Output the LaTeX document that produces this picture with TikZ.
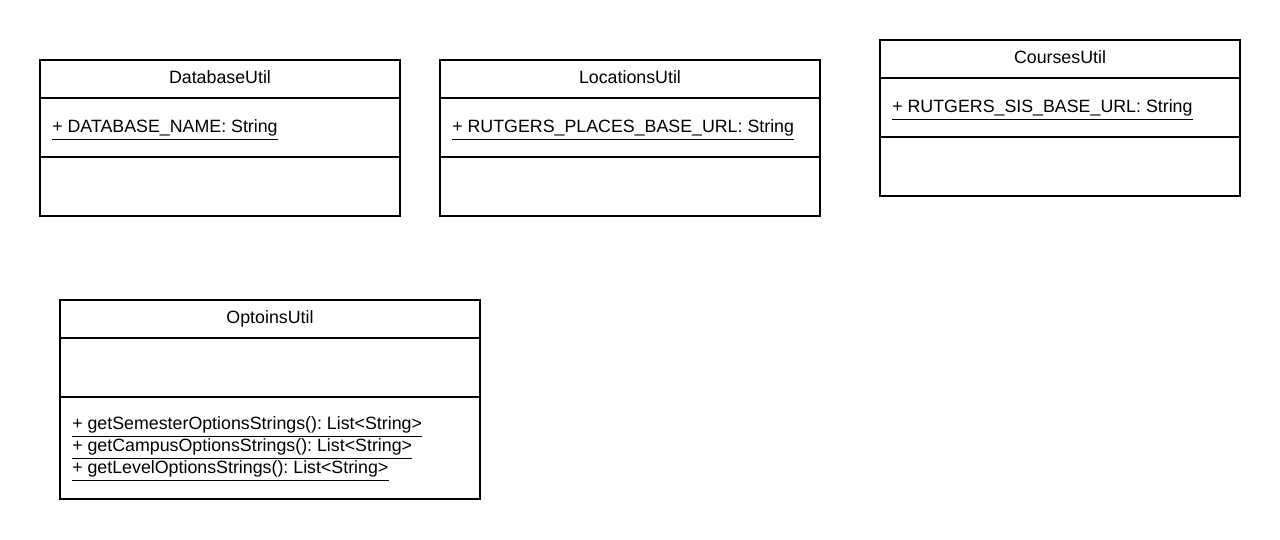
\documentclass[tikz,border=0pt]{standalone}
\usepackage{fontspec}
\setmainfont{Liberation Sans}
\frenchspacing
\begin{document}
\begin{tikzpicture}[x=0.75pt,y=-0.75pt,
  box/.style={draw=black,line width=1.5pt},
  txt/.style={inner sep=0pt,font=\fontsize{13.35pt}{16pt}\selectfont,text=black},
  uline/.style={draw=black,line width=0.8pt}]
\useasboundingbox[fill=white] (0,0) rectangle (1280,539);
% DatabaseUtil
\draw[box] (40,60) rectangle (400,216);
\draw[box] (40,98) -- (400,98);
\draw[box] (40,157) -- (400,157);
\node[txt,anchor=base] (dbh) at (220,83) {DatabaseUtil};
\node[txt,anchor=base west] (dba) at (52,132) {+ DATABASE\_NAME: String};
\draw[uline] ([yshift=-5.6pt]dba.base west) -- ([yshift=-5.6pt]dba.base east);
% LocationsUtil
\draw[box] (440,60) rectangle (820,216);
\draw[box] (440,98) -- (820,98);
\draw[box] (440,157) -- (820,157);
\node[txt,anchor=base] (loh) at (630,83) {LocationsUtil};
\node[txt,anchor=base west] (loa) at (452,132) {+ RUTGERS\_PLACES\_BASE\_URL: String};
\draw[uline] ([yshift=-5.6pt]loa.base west) -- ([yshift=-5.6pt]loa.base east);
% CoursesUtil
\draw[box] (880,40) rectangle (1240,196);
\draw[box] (880,78) -- (1240,78);
\draw[box] (880,137) -- (1240,137);
\node[txt,anchor=base] (coh) at (1060,63) {CoursesUtil};
\node[txt,anchor=base west] (coa) at (892,112) {+ RUTGERS\_SIS\_BASE\_URL: String};
\draw[uline] ([yshift=-5.6pt]coa.base west) -- ([yshift=-5.6pt]coa.base east);
% OptoinsUtil
\draw[box] (60,300) rectangle (480,499);
\draw[box] (60,338) -- (480,338);
\draw[box] (60,397) -- (480,397);
\node[txt,anchor=base] (oph) at (270,323) {OptoinsUtil};
\node[txt,anchor=base west] (op1) at (72,429) {+ getSemesterOptionsStrings(): List<String>};
\node[txt,anchor=base west] (op2) at (72,451) {+ getCampusOptionsStrings(): List<String>};
\node[txt,anchor=base west] (op3) at (72,473) {+ getLevelOptionsStrings(): List<String>};
\draw[uline] ([yshift=-5.6pt]op1.base west) -- ([yshift=-5.6pt]op1.base east);
\draw[uline] ([yshift=-5.6pt]op2.base west) -- ([yshift=-5.6pt]op2.base east);
\draw[uline] ([yshift=-5.6pt]op3.base west) -- ([yshift=-5.6pt]op3.base east);
\end{tikzpicture}
\end{document}
